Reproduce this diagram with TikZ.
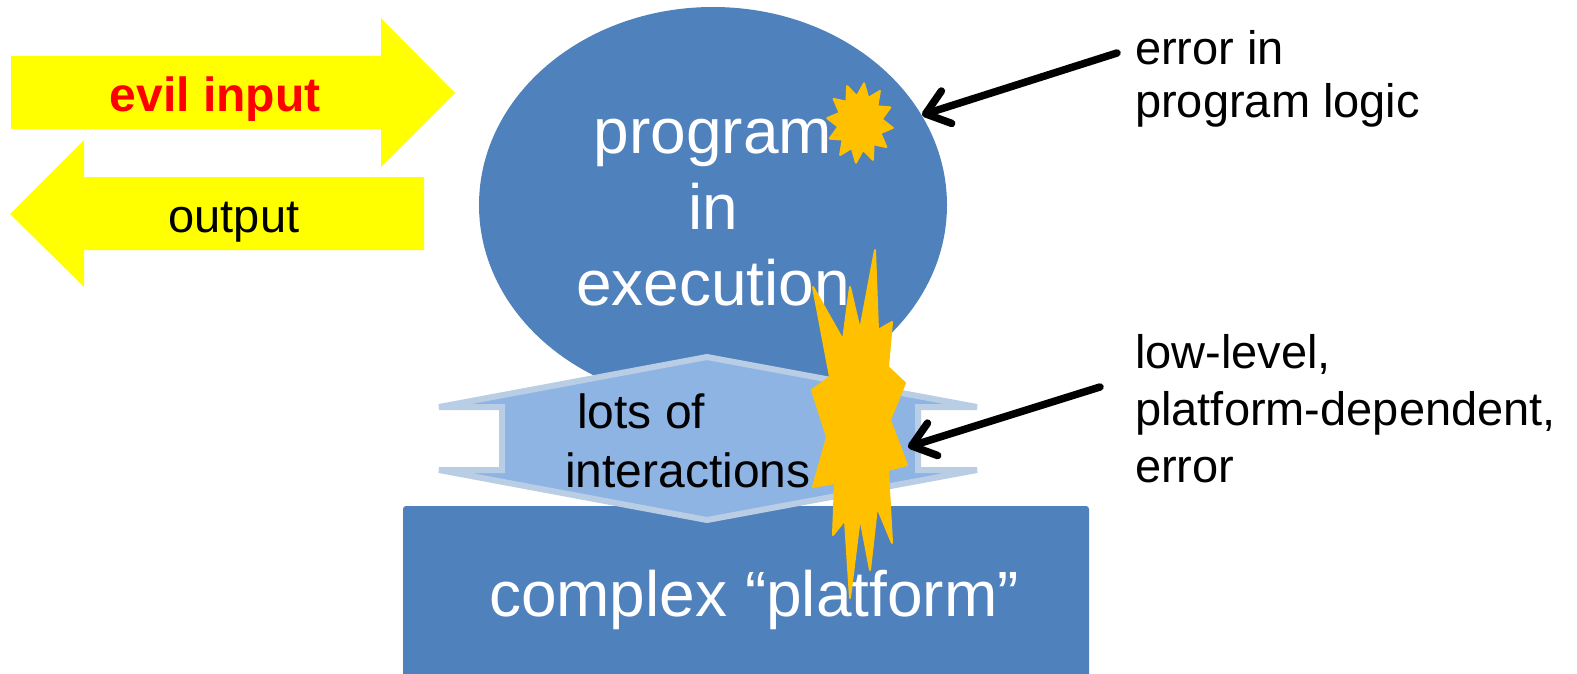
\documentclass[tikz,border=0pt]{standalone}
\usepackage{fontspec}
\setmainfont{Liberation Sans}
\usetikzlibrary{arrows.meta}

\definecolor{progblue}{HTML}{4F81BD}
\definecolor{talkfill}{HTML}{8EB4E3}
\definecolor{talkline}{HTML}{B9CDE5}
\definecolor{burst}{HTML}{FFC000}
\definecolor{evilyellow}{HTML}{FFFF00}
\definecolor{evilred}{HTML}{FF0000}

\tikzset{
  bigtext/.style={font=\fontsize{64}{76}\selectfont, text=white, align=center, inner sep=0pt},
  midtext/.style={font=\fontsize{47}{55}\selectfont, inner sep=0pt},
  burstfill/.style={fill=burst, draw=burst, line width=2pt, line join=round},
  pointer/.style={line width=7.5pt, line cap=round, -{Straight Barb[length=22pt,width=34pt,round]}}
}

\begin{document}
\begin{tikzpicture}[x=1pt,y=-1pt]
  \useasboundingbox (0,0) rectangle (1577,674);

  %draw yellow arrows
  \fill[evilyellow] (11,56) -- (381,56) -- (381,18) -- (455,93) -- (381,167) -- (381,129) -- (11,129) -- cycle;
  \fill[evilyellow] (424,177) -- (84,177) -- (84,140) -- (10,214) -- (84,287) -- (84,250) -- (424,250) -- cycle;
  \node[midtext, anchor=base, text=evilred, font=\fontsize{48}{55}\selectfont\bfseries] (evilin) at (215,112) {evil input};
  \node[midtext, anchor=base] (outtext) at (234,232) {output};

  %draw program and platform
  \fill[progblue] (713,205) ellipse [x radius=234, y radius=198];
  \node[bigtext, anchor=base] (prog) at (713,305) {program\\in\\execution};
  \fill[progblue, rounded corners=3pt] (403,506) rectangle (1089,700);
  \node[bigtext, anchor=base] (platform) at (754,616) {complex “platform”};

  %draw interactions
  \filldraw[fill=talkfill, draw=talkline, line width=6pt] (707,357) -- (977,407) -- (918,407) -- (918,470) -- (977,470)
    -- (707,520) -- (439,470) -- (502,470) -- (502,407) -- (439,407) -- cycle;
  \node[midtext, align=left, anchor=base west, font=\fontsize{48}{59}\selectfont] (talk) at (565,487) {\hspace*{12pt}lots of\\interactions};

  %draw errors
  \draw[burstfill] plot[samples at={0,...,23}] ({860+(isodd(\x)?22:33)*cos(15*\x+7)}, {123+(isodd(\x)?27:40)*sin(15*\x+7)}) -- cycle;
  \draw[burstfill] (875,250) \foreach \p in {(878,330),(892,322),(888,367),(905,383),(890,420),(907,465),(888,470),
    (892,543),(877,507),(870,570),(860,517),(850,598),(845,520),(833,535),(835,483),(813,487),(827,437),(812,390),
    (830,377),(813,287),(843,340),(850,287),(860,330)} { -- \p } -- cycle;

  %draw labels
  \node[midtext, align=left, anchor=base west, font=\fontsize{47}{53}\selectfont] (errlogic) at (1135,118) {error in\\program logic};
  \node[midtext, align=left, anchor=base west, font=\fontsize{47}{57}\selectfont] (errplat) at (1135,482) {low-level,\\platform-dependent,\\error};

  %draw pointers
  \coordinate (logictail) at (1117,53);
  \coordinate (logictip) at (922,115);
  \coordinate (plattail) at (1100,387);
  \coordinate (plattip) at (908,447);
  \draw[pointer] (logictail) -- (logictip);
  \draw[pointer] (plattail) -- (plattip);
\end{tikzpicture}
\end{document}
